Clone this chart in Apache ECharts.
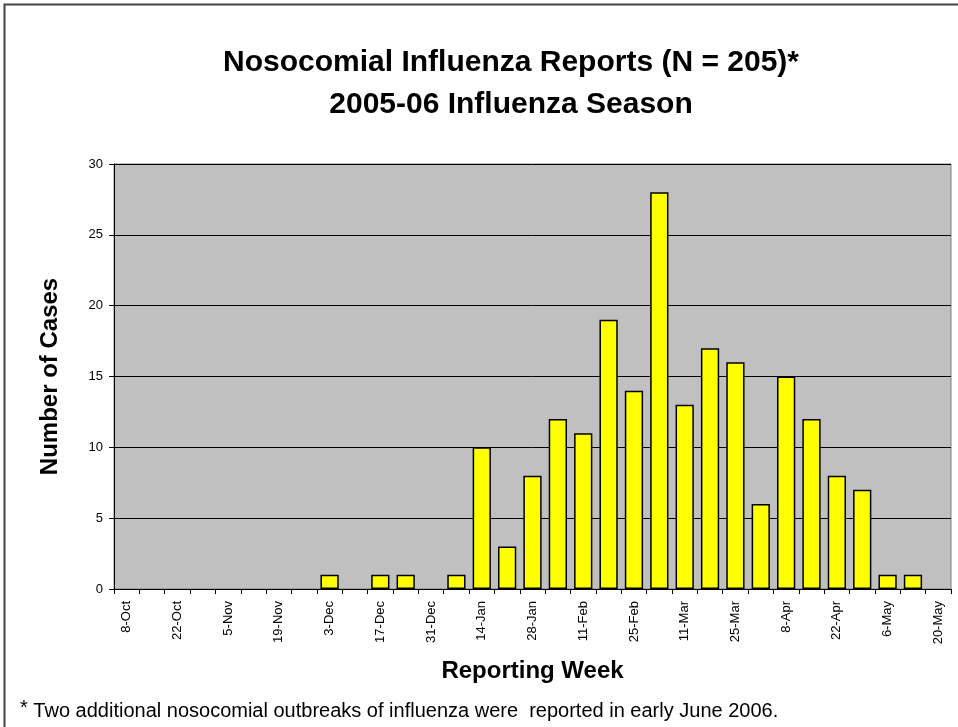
<!DOCTYPE html>
<html>
<head>
<meta charset="utf-8">
<script src="https://cdn.jsdelivr.net/npm/echarts@6/dist/echarts.min.js"></script>
<style>html,body{margin:0;padding:0;background:#fff;}#c{width:958px;height:727px;}</style>
</head>
<body>
<div id="c"></div>
<script>
var weeks = ['8-Oct','15-Oct','22-Oct','29-Oct','5-Nov','12-Nov','19-Nov','26-Nov','3-Dec','10-Dec','17-Dec','24-Dec','31-Dec','7-Jan','14-Jan','21-Jan','28-Jan','4-Feb','11-Feb','18-Feb','25-Feb','4-Mar','11-Mar','18-Mar','25-Mar','1-Apr','8-Apr','15-Apr','22-Apr','29-Apr','6-May','13-May','20-May'];
var cases = [0,0,0,0,0,0,0,0,1,0,1,1,0,1,10,3,8,12,11,19,14,28,13,17,16,6,15,12,8,7,1,1,0];
var yTicks = [0,5,10,15,20,25,30];
var titleText = 'Nosocomial Influenza Reports (N = 205)*\n2005-06 Influenza Season';
var footnote = 'Two additional nosocomial outbreaks of influenza were  reported in early June 2006.';

var FONT = 'Liberation Sans, Arial, sans-serif';
var barData = cases.map(function (v) {
  return v === 0 ? {value: v, itemStyle: {borderWidth: 0, opacity: 0}} : v;
});

var chart = echarts.init(document.getElementById('c'), null, {renderer:'canvas'});
chart.setOption({
  backgroundColor: '#ffffff',
  animation: false,
  title: {
    text: titleText,
    left: 506,
    top: 37,
    textAlign: 'center',
    textStyle: {fontFamily: FONT, fontWeight: 'bold', fontSize: 30, lineHeight: 42, color: '#000'}
  },
  grid: {left: 114, right: 7, top: 164, bottom: 138, show: true, backgroundColor: '#c0c0c0', borderColor: '#808080', borderWidth: 1},
  xAxis: {
    type: 'category',
    data: weeks,
    boundaryGap: true,
    name: 'Reporting Week',
    nameLocation: 'middle',
    nameGap: 70,
    nameTextStyle: {fontFamily: FONT, fontWeight: 'bold', fontSize: 24, color: '#000'},
    axisLine: {lineStyle: {color: '#000', width: 1}},
    axisTick: {show: true, interval: 0, alignWithLabel: false, length: 5, lineStyle: {color: '#000'}},
    axisLabel: {interval: 1, rotate: 90, margin: 12, fontFamily: FONT, fontSize: 13, color: '#000'}
  },
  yAxis: {
    type: 'value',
    min: yTicks[0],
    max: yTicks[yTicks.length-1],
    interval: 5,
    name: 'Number of Cases',
    nameLocation: 'middle',
    nameGap: 52,
    nameTextStyle: {fontFamily: FONT, fontWeight: 'bold', fontSize: 24, color: '#000'},
    axisLine: {show: true, lineStyle: {color: '#000', width: 1}},
    axisTick: {show: true, length: 5, lineStyle: {color: '#000'}},
    axisLabel: {margin: 11, fontFamily: FONT, fontSize: 13, color: '#000'},
    splitLine: {show: true, lineStyle: {color: '#000', width: 1}}
  },
  series: [{
    type: 'bar',
    data: barData,
    barCategoryGap: '28%',
    itemStyle: {color: '#ffff00', borderColor: '#000', borderWidth: 1.5}
  }],
  graphic: [
    {type: 'rect', shape: {x: 4.5, y: 4.5, width: 970, height: 740}, style: {fill: 'none', stroke: '#444', lineWidth: 2}, silent: true},
    {type: 'text', left: 20, top: 698, style: {
      text: '{s|*} ' + footnote,
      rich: {s: {fontSize: 20, verticalAlign: 'top', fontFamily: FONT, fill: '#000', padding: [0,0,6,0]}},
      fontFamily: FONT, fontSize: 20, fill: '#000'
    }}
  ]
});
</script>
</body>
</html>
